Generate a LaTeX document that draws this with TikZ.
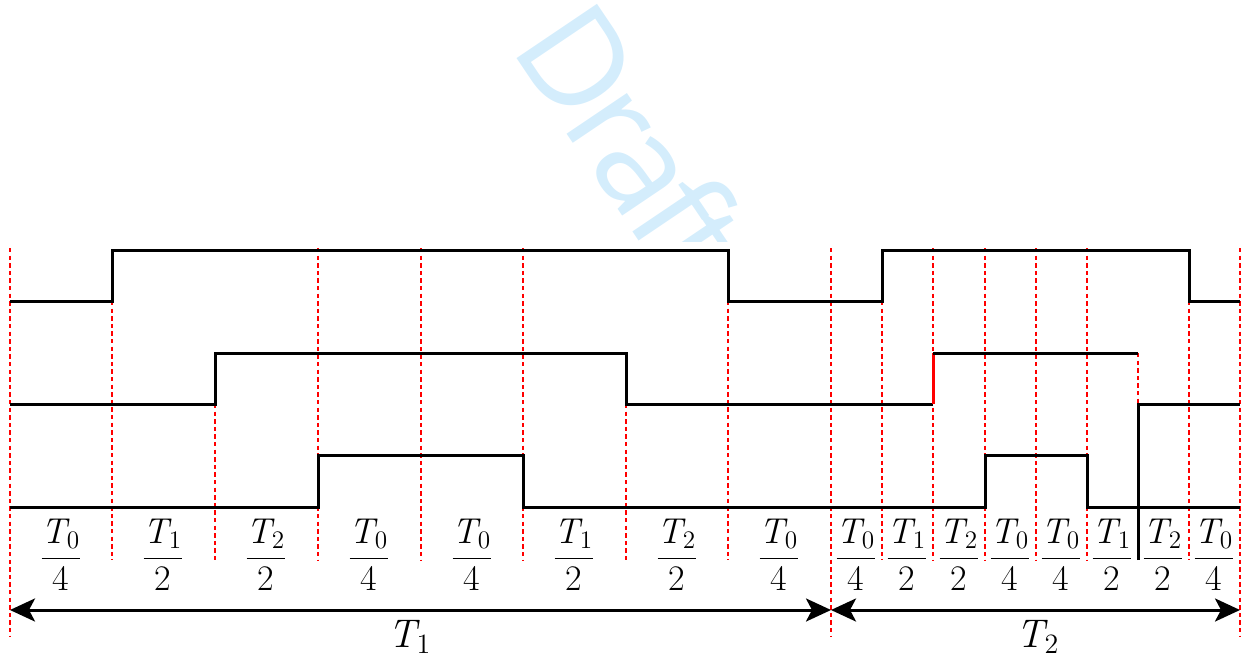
\documentclass[tikz,border=0pt]{standalone}
\usepackage{amsmath}
\usepackage{fontspec}
\newfontfamily\markfont{Open Sans}[LetterSpace=-5]
\usetikzlibrary{arrows.meta}
\definecolor{markblue}{RGB}{212,237,252}
\newcommand{\slotfrac}[2]{$\dfrac{\text{\itshape T}_{\text{#1}}}{\text{#2}}$}

\begin{document}
\begin{tikzpicture}[x=0.5pt,y=-0.5pt,grid/.style={red,line width=1.4pt,dash pattern=on 2.2pt off 1.6pt},wave/.style={line width=1.5pt},span/.style={line width=1.5pt,{Stealth[length=12.5pt,width=11.5pt,inset=3pt]}-{Stealth[length=12.5pt,width=11.5pt,inset=3pt]}},slot/.style={font=\fontsize{18}{21}\selectfont,inner sep=0pt},period/.style={font=\fontsize{20}{23}\selectfont,inner sep=0pt}]
\useasboundingbox (0,0) rectangle (1245,663);
% watermark
\begin{scope}
\clip (0,0) rectangle (1245,241);
\node[rotate=-56,text=markblue,font=\markfont\fontsize{68}{68}\selectfont,inner sep=0pt] (mark) at (634,141) {Draft};
\end{scope}
% slot borders
\draw[grid] (10,248) -- (10,637);
\draw[grid] (112,301) -- (112,560);
\draw[grid] (215,404) -- (215,560);
\draw[grid] (318,248) -- (318,560);
\draw[grid] (421,248) -- (421,560);
\draw[grid] (523,248) -- (523,560);
\draw[grid] (626,404) -- (626,560);
\draw[grid] (728,301) -- (728,560);
\draw[grid] (831,248) -- (831,637);
\draw[grid] (882,301) -- (882,560);
\draw[grid] (933,248) -- (933,560);
\draw[grid] (985,248) -- (985,560);
\draw[grid] (1036,248) -- (1036,560);
\draw[grid] (1087,248) -- (1087,560);
\draw[grid] (1138,353) -- (1138,404);
\draw[grid] (1189,301) -- (1189,560);
\draw[grid] (1240,248) -- (1240,637);
% switching signals
\draw[wave] (10,301) -- (112,301) -- (112,250) -- (728,250) -- (728,301) -- (882,301) -- (882,250) -- (1189,250) -- (1189,301) -- (1240,301);
\draw[wave] (10,404) -- (215,404) -- (215,353) -- (626,353) -- (626,404) -- (933,404);
\draw[wave,red] (933,404) -- (933,353);
\draw[wave] (933,353) -- (1138,353);
\draw[wave] (1138,560) -- (1138,404) -- (1240,404);
\draw[wave] (10,507) -- (318,507) -- (318,455) -- (523,455) -- (523,507) -- (985,507) -- (985,455) -- (1087,455) -- (1087,507) -- (1240,507);
% slot lengths
\node[slot] (a1) at (61,555) {\slotfrac{0}{4}};
\node[slot] (a2) at (163,555) {\slotfrac{1}{2}};
\node[slot] (a3) at (266,555) {\slotfrac{2}{2}};
\node[slot] (a4) at (369,555) {\slotfrac{0}{4}};
\node[slot] (a5) at (472,555) {\slotfrac{0}{4}};
\node[slot] (a6) at (574,555) {\slotfrac{1}{2}};
\node[slot] (a7) at (677,555) {\slotfrac{2}{2}};
\node[slot] (a8) at (779,555) {\slotfrac{0}{4}};
\node[slot] (b1) at (856,555) {\slotfrac{0}{4}};
\node[slot] (b2) at (907,555) {\slotfrac{1}{2}};
\node[slot] (b3) at (959,555) {\slotfrac{2}{2}};
\node[slot] (b4) at (1010,555) {\slotfrac{0}{4}};
\node[slot] (b5) at (1061,555) {\slotfrac{0}{4}};
\node[slot] (b6) at (1112,555) {\slotfrac{1}{2}};
\node[slot] (b7) at (1163,555) {\slotfrac{2}{2}};
\node[slot] (b8) at (1214,555) {\slotfrac{0}{4}};
% periods
\coordinate (L) at (10,610);
\coordinate (M) at (831,610);
\coordinate (R) at (1240,610);
\draw[span] (L) -- (M);
\draw[span] (M) -- (R);
\node[period] (t1) at (410,637) {$\text{\itshape T}_{\text{1}}$};
\node[period] (t2) at (1038,637) {$\text{\itshape T}_{\text{2}}$};
\end{tikzpicture}
\end{document}
